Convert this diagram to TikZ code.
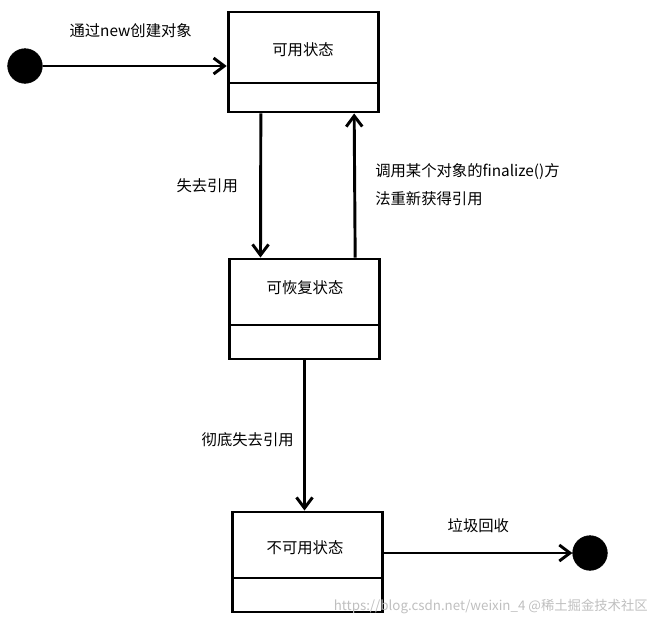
\documentclass[tikz,border=0pt]{standalone}
\usepackage{fontspec}
\setmainfont{Noto Sans CJK SC}
\usetikzlibrary{positioning, arrows.meta}
\tikzstyle{state} = [rectangle, draw=black, line width=2.2pt, minimum width=113pt, minimum height=75pt, inner sep=0pt]
\tikzstyle{dot} = [circle, fill=black, draw=black, minimum size=26pt, inner sep=0pt]
\tikzstyle{arrow} = [line width=2.2pt, -{Straight Barb[length=8pt, width=12pt, line width=2.2pt]}]
\tikzstyle{lbl} = [font=\fontsize{11.5pt}{14pt}\selectfont, inner sep=0pt]

\begin{document}
\begin{tikzpicture}[x=0.75pt, y=-0.75pt]
    \useasboundingbox (0,0) rectangle (653,621);
    \node(start)[dot] at (25,66) {};
    \node(ok)[state] at (303.5,62) {};
    \node(recover)[state] at (304.5,309) {};
    \node(dead)[state] at (307.5,562) {};
    \node(finish)[dot] at (590,553) {};

    % dividers and names
    \draw[line width=2.2pt] (228,83) -- (379,83);
    \draw[line width=2.2pt] (229,325) -- (380,325);
    \draw[line width=2.2pt] (232,578) -- (383,578);
    \node[lbl] at (303,50) {可用状态};
    \node[lbl] at (305,288) {可恢复状态};
    \node[lbl] at (305,548) {不可用状态};

    \draw[arrow](start) -- node[lbl, above=20pt, xshift=-3pt]{通过new创建对象} (ok.west |- start);
    \draw[arrow]([xshift=-32pt]ok.south) -- node[lbl, left=16pt]{失去引用} ([xshift=-33pt]recover.north);
    \draw[arrow]([xshift=38pt]recover.north) -- ([xshift=38pt]ok.south);
    \node[lbl, anchor=west, align=left] at (375,185) {调用某个对象的finalize()方\\[7pt]法重新获得引用};
    \draw[arrow](recover.south) -- node[lbl, left=7pt, yshift=-3pt]{彻底失去引用} (recover.south |- dead.north);
    \draw[arrow](dead.east |- finish) -- node[lbl, above=14pt]{垃圾回收} (finish);
    \node[lbl, font=\fontsize{10pt}{12pt}\selectfont, text=black!25, anchor=east] at (648,606) {https://blog.csdn.net/weixin\_4 @稀土掘金技术社区};
\end{tikzpicture}
\end{document}
